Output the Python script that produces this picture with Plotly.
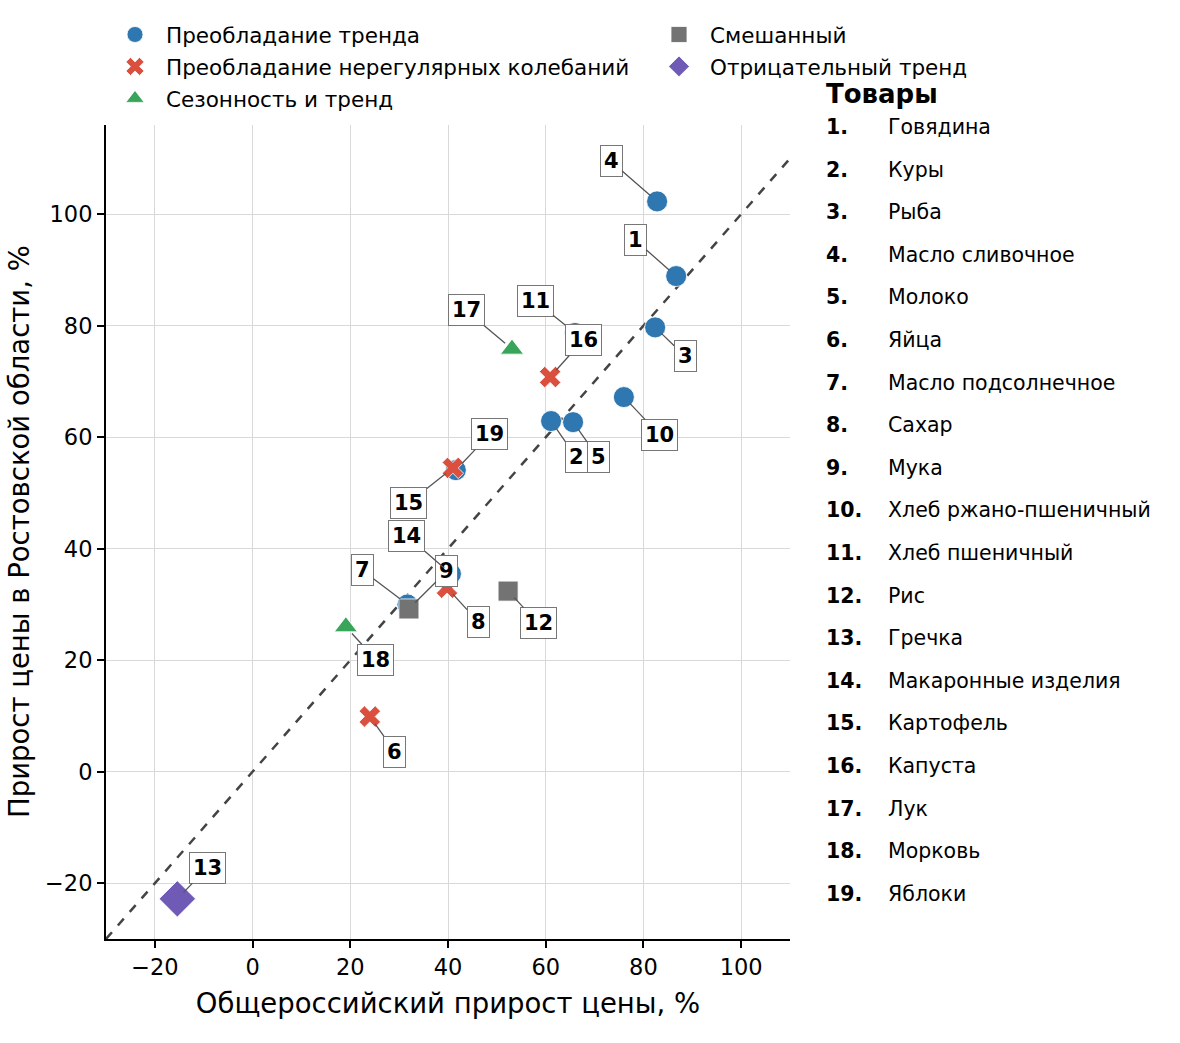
import plotly.graph_objects as go

# ---------------- data ----------------
ids = list(range(1, 20))
names = ["Говядина", "Куры", "Рыба", "Масло сливочное", "Молоко", "Яйца",
         "Масло подсолнечное", "Сахар", "Мука", "Хлеб ржано-пшеничный",
         "Хлеб пшеничный", "Рис", "Гречка", "Макаронные изделия", "Картофель",
         "Капуста", "Лук", "Морковь", "Яблоки"]
cats = ["trend", "trend", "trend", "trend", "trend", "irreg",
        "trend", "irreg", "mixed", "trend",
        "trend", "mixed", "neg", "trend", "irreg",
        "irreg", "season", "season", "trend"]
x_all = [86.7, 61.1, 82.4, 82.8, 65.6, 24.0, 31.7, 39.8, 32.0, 76.0,
         66.0, 52.3, -15.4, 40.6, 41.0, 60.9, 53.1, 19.1, 41.6]
y_ros = [88.9, 62.9, 79.7, 102.3, 62.7, 9.9, 30.0, 33.0, 29.2, 67.2,
         78.7, 32.4, -22.8, 35.5, 54.5, 70.8, 75.8, 26.0, 54.1]

cat_draw_order = ["trend", "irreg", "season", "mixed", "neg"]
cat_names = {"trend": "Преобладание тренда",
             "irreg": "Преобладание нерегулярных колебаний",
             "season": "Сезонность и тренд",
             "mixed": "Смешанный",
             "neg": "Отрицательный тренд"}

x_ticks = [-20, 0, 20, 40, 60, 80, 100]
y_ticks = [-20, 0, 20, 40, 60, 80, 100]

# ---------------- styles ----------------
cat_style = {
    "trend": dict(symbol="circle", color="#2E77B0", size=21, legend="legend"),
    "irreg": dict(symbol="x", color="#DA4F3D", size=19, legend="legend"),
    "season": dict(symbol="triangle-up", color="#39A55A", size=20, legend="legend"),
    "mixed": dict(symbol="square", color="#737373", size=20, legend="legend2"),
    "neg": dict(symbol="diamond", color="#6F5BB5", size=28, legend="legend2"),
}
# label offsets in pixels (ax, ay) from point
label_off = {1: (-41, -36), 2: (25, 36), 3: (30, 29), 4: (-46, -40), 5: (25, 35),
             6: (25, 35), 7: (-45, -34), 8: (31, 34), 9: (38, -38), 10: (36, 38),
             11: (-40, -32), 12: (30, 32), 13: (30, -31), 14: (-44, -38),
             15: (-44, 35), 16: (33, -37), 17: (-46, -39), 18: (30, 33), 19: (34, -36)}

W, H = 1180, 1043
ML, MR, MT, MB = 106, 390, 125, 104
PW, PH = W - ML - MR, H - MT - MB
FONT = "DejaVu Sans"

fig = go.Figure()

# diagonal
fig.add_trace(go.Scatter(x=[-30, 110], y=[-30, 110], mode="lines",
                         line=dict(color="#444444", width=2.5, dash="dash"),
                         showlegend=False, hoverinfo="skip"))

for c in cat_draw_order:
    xs = [x for x, cc in zip(x_all, cats) if cc == c]
    ys = [y for y, cc in zip(y_ros, cats) if cc == c]
    st = cat_style[c]
    fig.add_trace(go.Scatter(x=xs, y=ys, mode="markers", name=cat_names[c],
                             legend=st["legend"], legendgroup=c,
                             marker=dict(symbol=st["symbol"], color=st["color"],
                                         size=st["size"],
                                         line=dict(width=0.8, color="white"))))

# point labels
for i, x, y in zip(ids, x_all, y_ros):
    ax, ay = label_off[i]
    fig.add_annotation(x=x, y=y, ax=ax, ay=ay, text=f"<b>{i}</b>",
                       showarrow=True, arrowhead=0, arrowwidth=1.3,
                       arrowcolor="#555555", standoff=9,
                       font=dict(family=FONT, size=21, color="black"),
                       bgcolor="white", bordercolor="#777777", borderwidth=1,
                       borderpad=3)


def px_x(p):
    # p: reference picture pixel
    return (p - ML) / PW


def px_y(p):
    return (H - MB - p) / PH


# right-hand list
fig.add_annotation(xref="paper", yref="paper", x=px_x(824), y=px_y(94),
                   xanchor="left", yanchor="middle", showarrow=False,
                   text="<b>Товары</b>", font=dict(family=FONT, size=26, color="black"))
for k, (i, n) in enumerate(zip(ids, names)):
    yy = px_y(127 + k * 42.6)
    fig.add_annotation(xref="paper", yref="paper", x=px_x(824), y=yy,
                       xanchor="left", yanchor="middle", showarrow=False,
                       text=f"<b>{i}.</b>", font=dict(family=FONT, size=20.5, color="black"))
    fig.add_annotation(xref="paper", yref="paper", x=px_x(886), y=yy,
                       xanchor="left", yanchor="middle", showarrow=False,
                       text=n, font=dict(family=FONT, size=20.5, color="black"))

# y-axis title
fig.add_annotation(xref="paper", yref="paper", x=px_x(1), y=px_y(532),
                   xanchor="left", yanchor="middle", showarrow=False, textangle=-90,
                   text="Прирост цены в Ростовской области, %",
                   font=dict(family=FONT, size=27.5, color="black"))

axis_common = dict(showgrid=True, gridcolor="#d9d9d9", gridwidth=1.3,
                   zeroline=False, showline=True, linecolor="black", linewidth=2,
                   ticks="outside", ticklen=7, tickwidth=1.8, tickcolor="black",
                   tickfont=dict(family=FONT, size=22.5, color="black"),
                   mirror=False)

leg_common = dict(xanchor="left", yanchor="top", orientation="v",
                  font=dict(family=FONT, size=21.5, color="black"),
                  bgcolor="rgba(0,0,0,0)", tracegroupgap=1, itemwidth=52)

fig.update_layout(
    width=W, height=H,
    margin=dict(l=ML, r=MR, t=MT, b=MB, autoexpand=False),
    plot_bgcolor="white", paper_bgcolor="white",
    font=dict(family=FONT, color="black"),
    xaxis=dict(range=[-30, 110], tickvals=x_ticks,
               title=dict(text="Общероссийский прирост цены, %",
                          font=dict(family=FONT, size=27.5, color="black"), standoff=15),
               **axis_common),
    yaxis=dict(range=[-30, 116], tickvals=y_ticks, **axis_common),
    legend=dict(x=px_x(104), y=px_y(14), **leg_common),
    legend2=dict(x=px_x(648), y=px_y(14), **leg_common),
)

fig.write_html("out.html", config={"displayModeBar": False},
               post_script="document.body.style.margin='0';")
